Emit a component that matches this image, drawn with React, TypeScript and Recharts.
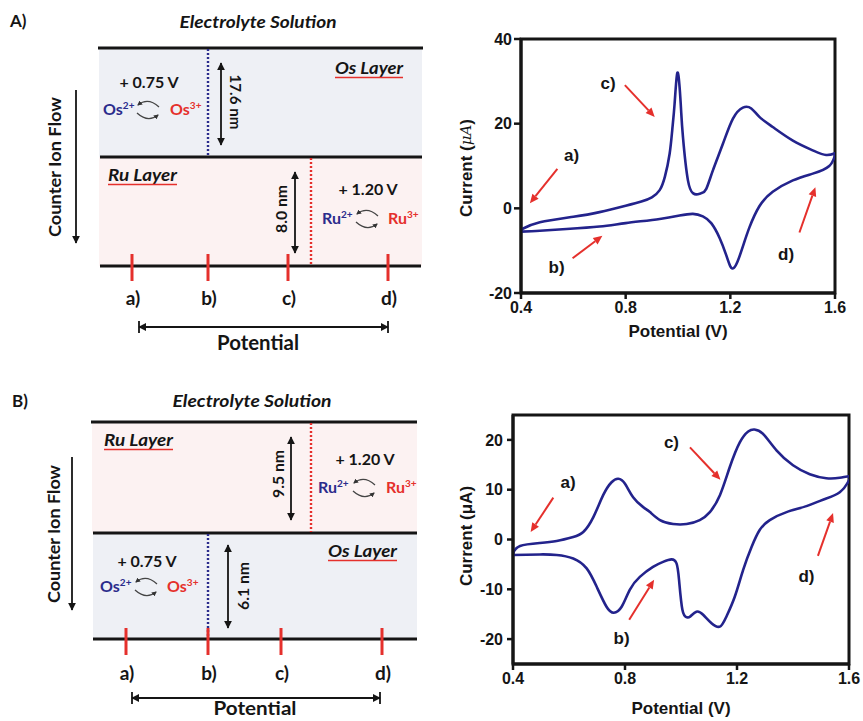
import React from 'react';
import { LineChart, Line, XAxis, YAxis, ReferenceLine, ReferenceDot, ReferenceArea } from 'recharts';

// ---------- Panel A cyclic voltammogram ----------
const cvAForwardPotential = [0.4, 0.472, 0.6, 0.7, 0.8, 0.86, 0.9, 0.93, 0.95, 0.968, 0.978, 0.987, 0.997, 1.006, 1.012, 1.019, 1.038, 1.057, 1.07, 1.09, 1.108, 1.133, 1.172, 1.21, 1.248, 1.28, 1.311, 1.362, 1.439, 1.515, 1.566, 1.6];
const cvAForwardCurrent = [-5.0, -3.3, -2.0, -0.9, 0.6, 1.6, 2.6, 4.3, 7.5, 12.9, 18.5, 24.7, 31.9, 28.7, 23.0, 16.8, 6.6, 3.6, 3.3, 3.6, 4.6, 8.9, 15.3, 21.2, 23.8, 23.6, 21.6, 19.2, 16.0, 13.7, 12.6, 13.0];
const cvAReversePotential = [1.6, 1.578, 1.515, 1.439, 1.362, 1.311, 1.273, 1.248, 1.228, 1.213, 1.2, 1.184, 1.159, 1.127, 1.095, 1.057, 1.006, 0.93, 0.8, 0.7, 0.574, 0.472, 0.4];
const cvAReverseCurrent = [12.5, 10.0, 8.2, 6.6, 3.9, 0.5, -4.5, -9.0, -12.5, -14.1, -13.7, -11.0, -7.0, -3.5, -1.9, -1.3, -1.7, -2.5, -3.5, -4.3, -4.9, -5.3, -5.5];

// ---------- Panel B cyclic voltammogram ----------
const cvBForwardPotential = [0.4, 0.425, 0.496, 0.556, 0.615, 0.651, 0.687, 0.722, 0.752, 0.776, 0.8, 0.829, 0.865, 0.889, 0.925, 0.972, 1.02, 1.067, 1.103, 1.139, 1.174, 1.21, 1.24, 1.262, 1.293, 1.341, 1.4, 1.46, 1.519, 1.567, 1.6];
const cvBForwardCurrent = [-2.8, -1.3, -0.7, -0.3, 0.5, 1.5, 4.5, 8.9, 11.5, 12.2, 11.2, 8.5, 6.5, 5.5, 3.9, 3.1, 3.1, 3.9, 5.5, 8.9, 14.5, 19.5, 21.7, 22.1, 21.2, 17.9, 14.9, 13.1, 12.3, 12.4, 12.7];
const cvBReversePotential = [1.6, 1.567, 1.507, 1.448, 1.377, 1.317, 1.281, 1.252, 1.222, 1.192, 1.162, 1.139, 1.109, 1.079, 1.055, 1.032, 1.02, 1.005, 0.993, 0.984, 0.966, 0.936, 0.9, 0.853, 0.817, 0.788, 0.76, 0.734, 0.699, 0.663, 0.615, 0.556, 0.496, 0.4];
const cvBReverseCurrent = [11.9, 9.5, 8.0, 6.7, 5.5, 3.9, 1.9, -1.5, -6.1, -11.5, -15.5, -17.5, -16.8, -15.1, -14.5, -15.5, -15.6, -14.1, -8.1, -4.8, -4.0, -4.5, -5.5, -7.5, -10.1, -13.5, -14.7, -13.5, -9.5, -5.8, -3.8, -3.1, -3.0, -3.1];

// ---------- Axes ----------
const potentialTicks = [0.4, 0.8, 1.2, 1.6];
const currentTicksA = [-20, 0, 20, 40];
const currentTicksB = [-20, -10, 0, 10, 20];

// ---------- Annotations (label, label V, label I, arrow from V/I, arrow to V/I) ----------
const labelsA = ['a)', 'b)', 'c)', 'd)'];
const labelVA = [0.593, 0.536, 0.733, 1.413];
const labelIA = [12.5, -14.0, 29.5, -10.8];
const arrowFromVA = [0.539, 0.597, 0.797, 1.464];
const arrowFromIA = [9.3, -11.8, 29.1, -5.7];
const arrowToVA = [0.434, 0.711, 0.911, 1.525];
const arrowToIA = [1.2, -6.5, 21.6, 5.0];

const labelsB = ['a)', 'b)', 'c)', 'd)'];
const labelVB = [0.597, 0.788, 0.966, 1.448];
const labelIB = [11.5, -19.8, 19.5, -7.5];
const arrowFromVB = [0.544, 0.815, 1.032, 1.489];
const arrowFromIB = [8.4, -16.1, 18.5, -3.3];
const arrowToVB = [0.463, 0.904, 1.141, 1.543];
const arrowToIB = [1.5, -8.1, 12.0, 5.3];

const buildLoop = (fv: number[], fi: number[], rv: number[], ri: number[]) => [
  ...fv.map((v, k) => ({ v, i: fi[k] })),
  ...rv.map((v, k) => ({ v, i: ri[k] })),
];
const dataA = buildLoop(cvAForwardPotential, cvAForwardCurrent, cvAReversePotential, cvAReverseCurrent);
const dataB = buildLoop(cvBForwardPotential, cvBForwardCurrent, cvBReversePotential, cvBReverseCurrent);

const CF = "'Liberation Sans', Arial, sans-serif";
const SF = "Lato, 'Open Sans', sans-serif";
const BLUE = '#2b2c8c';
const RED = '#e5302c';
const CURVE = '#23238c';
const INK = '#151515';

const RedArrow = (p: any) => {
  const { x1, y1, x2, y2 } = p;
  const ang = Math.atan2(y2 - y1, x2 - x1);
  const L = 9, W = 4;
  const bx = x2 - L * Math.cos(ang), by = y2 - L * Math.sin(ang);
  const pts = `${x2},${y2} ${bx - W * Math.sin(ang)},${by + W * Math.cos(ang)} ${bx + W * Math.sin(ang)},${by - W * Math.cos(ang)}`;
  return (
    <g>
      <line x1={x1} y1={y1} x2={bx} y2={by} stroke={RED} strokeWidth={2} />
      <polygon points={pts} fill={RED} />
    </g>
  );
};

const makeLabelShape = (txt: string) => (p: any) => (
  <text x={p.cx} y={p.cy} textAnchor="middle" dominantBaseline="central" fontFamily={CF} fontWeight={700} fontSize={17} fill={INK}>{txt}</text>
);

const tickStyle = { fill: INK, fontSize: 16, fontWeight: 700, fontFamily: CF };

function CVChart(props: any) {
  const { data, yDomain, yTicks, width, height, margin, yWidth, tickSizeY, tickMarginY, italicUnit, yTitleX, yTitleY, xTitleDy,
    labels, lv, li, afv, afi, atv, ati } = props;
  return (
    <LineChart width={width} height={height} data={data} margin={margin}>
      <XAxis dataKey="v" type="number" domain={[0.4, 1.6]} ticks={potentialTicks} allowDataOverflow
        tickFormatter={(v: number) => v.toFixed(1)} axisLine={{ stroke: INK, strokeWidth: 3 }}
        tickLine={{ stroke: INK, strokeWidth: 2.5 }} tickSize={6} tickMargin={3} height={57} tick={tickStyle}
        label={(lp: any) => {
          const vb = lp.viewBox || {};
          return (
            <text x={vb.x + vb.width / 2} y={vb.y + xTitleDy} textAnchor="middle" fontFamily={CF} fontWeight={700} fontSize={17} fill={INK}>Potential (V)</text>
          );
        }} />
      <YAxis type="number" domain={yDomain} ticks={yTicks} allowDataOverflow width={yWidth}
        axisLine={{ stroke: INK, strokeWidth: 3 }} tickLine={{ stroke: INK, strokeWidth: 2.5 }} tickSize={tickSizeY} tickMargin={tickMarginY} tick={tickStyle}
        label={() => (
          <text x={yTitleX} y={yTitleY} transform={`rotate(-90 ${yTitleX} ${yTitleY})`} textAnchor="middle" dominantBaseline="central" fontFamily={CF} fontWeight={700} fontSize={17} fill={INK}>
            {italicUnit ? (
              <>Current (<tspan fontStyle="italic" fontWeight={400} fontSize={15} fontFamily="'DejaVu Serif', serif">μA</tspan>)</>
            ) : 'Current (μA)'}
          </text>
        )} />
      <ReferenceArea x1={0.4} x2={1.6} y1={yDomain[0]} y2={yDomain[1]} fill="none" stroke={INK} strokeWidth={3} ifOverflow="visible" />
      <Line dataKey="i" type="natural" stroke={CURVE} strokeWidth={2.6} dot={false} activeDot={false} isAnimationActive={false} />
      {labels.map((t: string, k: number) => (
        <ReferenceLine key={'ar' + k} segment={[{ x: afv[k], y: afi[k] }, { x: atv[k], y: ati[k] }]} shape={RedArrow} ifOverflow="visible" />
      ))}
      {labels.map((t: string, k: number) => (
        <ReferenceDot key={'lb' + k} x={lv[k]} y={li[k]} r={1} shape={makeLabelShape(t)} ifOverflow="visible" />
      ))}
    </LineChart>
  );
}

const Cycle = ({ cx, cy }: { cx: number; cy: number }) => (
  <g fill="none" stroke="#444" strokeWidth={1.3}>
    <path d={`M${cx + 11},${cy - 3} Q${cx},${cy - 13} ${cx - 10},${cy - 5}`} markerEnd="url(#ahs)" />
    <path d={`M${cx - 11},${cy + 3} Q${cx},${cy + 13} ${cx + 10},${cy + 5}`} markerEnd="url(#ahs)" />
  </g>
);

const Ion = ({ x, y, el, ox, color }: any) => (
  <text x={x} y={y} fill={color} fontFamily={SF} fontWeight={700} fontSize={16}>{el}<tspan fontSize={10} dy={-6}>{ox}</tspan></text>
);

const LayerTitle = ({ x, y, txt, w }: any) => (
  <g>
    <text x={x} y={y} fontFamily={SF} fontWeight={700} fontStyle="italic" fontSize={17} fill={INK} textLength={w} lengthAdjust="spacingAndGlyphs">{txt}</text>
    <line x1={x} y1={y + 3.5} x2={x + w} y2={y + 3.5} stroke={RED} strokeWidth={1.6} />
  </g>
);

const VArrow = ({ x, y1, y2 }: any) => (
  <line x1={x} y1={y1} x2={x} y2={y2} stroke={INK} strokeWidth={1.8} markerStart="url(#ah)" markerEnd="url(#ah)" />
);

const RotText = ({ x, y, angle, txt, w }: any) => (
  <text x={x} y={y} transform={`rotate(${angle} ${x} ${y})`} textAnchor="middle" dominantBaseline="central" fontFamily={SF} fontWeight={700} fontSize={16} fill={INK} textLength={w} lengthAdjust="spacingAndGlyphs">{txt}</text>
);

const TickLabel = ({ x, y, txt }: any) => (
  <text x={x + 1} y={y} textAnchor="middle" fontFamily={SF} fontWeight={700} fontSize={19} fill={INK}>{txt}</text>
);

function Schematic() {
  const abcd = ['a)', 'b)', 'c)', 'd)'];
  return (
    <svg width={440} height={721} style={{ position: 'absolute', left: 0, top: 0 }}>
      <defs>
        <marker id="ah" viewBox="0 0 10 10" refX="9" refY="5" markerWidth="8" markerHeight="8" markerUnits="userSpaceOnUse" orient="auto-start-reverse">
          <path d="M0,0 L10,5 L0,10 z" fill={INK} />
        </marker>
        <marker id="ahs" viewBox="0 0 10 10" refX="8" refY="5" markerWidth="5" markerHeight="5" markerUnits="userSpaceOnUse" orient="auto">
          <path d="M0,0 L10,5 L0,10 z" fill="#333" />
        </marker>
      </defs>

      {/* ===== Panel A ===== */}
      <text x={10} y={27} fontFamily={SF} fontWeight={700} fontSize={17} fill={INK}>A)</text>
      <text x={258} y={28} textAnchor="middle" fontFamily={SF} fontWeight={700} fontStyle="italic" fontSize={17} fill={INK} textLength={157} lengthAdjust="spacingAndGlyphs">Electrolyte Solution</text>
      <rect x={99} y={48} width={323} height={109} fill="#eef0f5" />
      <rect x={99} y={157} width={323} height={109} fill="#fcf2f2" />
      <line x1={98} y1={48} x2={423} y2={48} stroke={INK} strokeWidth={3} />
      <line x1={100} y1={157} x2={422} y2={157} stroke={INK} strokeWidth={3} />
      <line x1={100} y1={266} x2={421} y2={266} stroke={INK} strokeWidth={3} />
      <line x1={208} y1={49} x2={208} y2={156} stroke={BLUE} strokeWidth={2.4} strokeDasharray="2 2" />
      <line x1={311} y1={158} x2={311} y2={265} stroke={RED} strokeWidth={2.4} strokeDasharray="2 2" />
      <VArrow x={221} y1={63} y2={145} />
      <RotText x={236} y={102} angle={90} txt="17.6 nm" w={55} />
      <VArrow x={295} y1={172} y2={253} />
      <RotText x={280} y={209} angle={-90} txt="8.0 nm" w={48} />
      <LayerTitle x={335} y={74} txt="Os Layer" w={68} />
      <LayerTitle x={108} y={181} txt="Ru Layer" w={69} />
      <text x={149} y={88} textAnchor="middle" fontFamily={SF} fontWeight={700} fontSize={16} fill={INK}>+ 0.75 V</text>
      <Ion x={103} y={115} el="Os" ox="2+" color={BLUE} />
      <Cycle cx={148} cy={110} />
      <Ion x={170} y={115} el="Os" ox="3+" color={RED} />
      <text x={368} y={195} textAnchor="middle" fontFamily={SF} fontWeight={700} fontSize={16} fill={INK}>+ 1.20 V</text>
      <Ion x={322} y={224} el="Ru" ox="2+" color={BLUE} />
      <Cycle cx={367} cy={219} />
      <Ion x={388} y={224} el="Ru" ox="3+" color={RED} />
      {[132, 208, 288, 388].map((x, k) => (
        <g key={'ta' + k}>
          <line x1={x} y1={254} x2={x} y2={281} stroke={RED} strokeWidth={3} />
          <TickLabel x={x} y={305} txt={abcd[k]} />
        </g>
      ))}
      <line x1={139} y1={327} x2={388} y2={327} stroke={INK} strokeWidth={1.8} markerStart="url(#ah)" markerEnd="url(#ah)" />
      <line x1={139} y1={321} x2={139} y2={333} stroke={INK} strokeWidth={1.8} />
      <line x1={388} y1={321} x2={388} y2={333} stroke={INK} strokeWidth={1.8} />
      <text x={258} y={350} textAnchor="middle" fontFamily={SF} fontWeight={700} fontSize={20} fill={INK} textLength={82} lengthAdjust="spacingAndGlyphs">Potential</text>
      <text x={54} y={167} transform="rotate(-90 54 167)" textAnchor="middle" dominantBaseline="central" fontFamily={SF} fontWeight={700} fontSize={17} fill={INK} textLength={140} lengthAdjust="spacingAndGlyphs">Counter Ion Flow</text>
      <line x1={76} y1={90} x2={76} y2={243} stroke={INK} strokeWidth={1.8} markerEnd="url(#ah)" />

      {/* ===== Panel B ===== */}
      <text x={12} y={407} fontFamily={SF} fontWeight={700} fontSize={17} fill={INK}>B)</text>
      <text x={252} y={407} textAnchor="middle" fontFamily={SF} fontWeight={700} fontStyle="italic" fontSize={17} fill={INK} textLength={159} lengthAdjust="spacingAndGlyphs">Electrolyte Solution</text>
      <rect x={92} y={422} width={325} height={111} fill="#fcf2f2" />
      <rect x={93} y={533} width={324} height={106} fill="#eef0f5" />
      <line x1={91} y1={422} x2={417} y2={422} stroke={INK} strokeWidth={3} />
      <line x1={93} y1={533} x2={417} y2={533} stroke={INK} strokeWidth={3} />
      <line x1={93} y1={639} x2={417} y2={639} stroke={INK} strokeWidth={3} />
      <line x1={311} y1={423} x2={311} y2={532} stroke={RED} strokeWidth={2.4} strokeDasharray="2 2" />
      <line x1={208} y1={534} x2={208} y2={638} stroke={BLUE} strokeWidth={2.4} strokeDasharray="2 2" />
      <VArrow x={291} y1={437} y2={520} />
      <RotText x={277} y={474} angle={-90} txt="9.5 nm" w={48} />
      <VArrow x={228} y1={545} y2={628} />
      <RotText x={242} y={586} angle={-90} txt="6.1 nm" w={48} />
      <LayerTitle x={104} y={446} txt="Ru Layer" w={69} />
      <LayerTitle x={328} y={557} txt="Os Layer" w={69} />
      <text x={365} y={465} textAnchor="middle" fontFamily={SF} fontWeight={700} fontSize={16} fill={INK}>+ 1.20 V</text>
      <Ion x={318} y={493} el="Ru" ox="2+" color={BLUE} />
      <Cycle cx={364} cy={488} />
      <Ion x={386} y={493} el="Ru" ox="3+" color={RED} />
      <text x={147} y={567} textAnchor="middle" fontFamily={SF} fontWeight={700} fontSize={16} fill={INK}>+ 0.75 V</text>
      <Ion x={100} y={592} el="Os" ox="2+" color={BLUE} />
      <Cycle cx={146} cy={587} />
      <Ion x={167} y={592} el="Os" ox="3+" color={RED} />
      {[126, 208, 281, 382].map((x, k) => (
        <g key={'tb' + k}>
          <line x1={x} y1={628} x2={x} y2={655} stroke={RED} strokeWidth={3} />
          <TickLabel x={x} y={680} txt={abcd[k]} />
        </g>
      ))}
      <line x1={132} y1={698} x2={380} y2={698} stroke={INK} strokeWidth={1.8} markerStart="url(#ah)" markerEnd="url(#ah)" />
      <line x1={132} y1={692} x2={132} y2={704} stroke={INK} strokeWidth={1.8} />
      <line x1={380} y1={692} x2={380} y2={704} stroke={INK} strokeWidth={1.8} />
      <text x={255} y={715} textAnchor="middle" fontFamily={SF} fontWeight={700} fontSize={18} fill={INK} textLength={83} lengthAdjust="spacingAndGlyphs">Potential</text>
      <text x={53} y={534} transform="rotate(-90 53 534)" textAnchor="middle" dominantBaseline="central" fontFamily={SF} fontWeight={700} fontSize={17} fill={INK} textLength={138} lengthAdjust="spacingAndGlyphs">Counter Ion Flow</text>
      <line x1={72} y1={457} x2={72} y2={610} stroke={INK} strokeWidth={1.8} markerEnd="url(#ah)" />
    </svg>
  );
}

export default function App() {
  return (
    <div style={{ position: 'absolute', left: 0, top: 0, width: 863, height: 721, background: '#fff', overflow: 'hidden' }}>
      <Schematic />
      <div style={{ position: 'absolute', left: 440, top: 20 }}>
        <CVChart data={dataA} yDomain={[-20, 40]} yTicks={currentTicksA} width={410} height={330}
          margin={{ top: 19, right: 15, bottom: 0, left: 0 }} yWidth={81} tickSizeY={7} tickMarginY={2}
          italicUnit yTitleX={26} yTitleY={148} xTitleDy={44}
          labels={labelsA} lv={labelVA} li={labelIA} afv={arrowFromVA} afi={arrowFromIA} atv={arrowToVA} ati={arrowToIA} />
      </div>
      <div style={{ position: 'absolute', left: 440, top: 400 }}>
        <CVChart data={dataB} yDomain={[-25, 25]} yTicks={currentTicksB} width={423} height={321}
          margin={{ top: 15, right: 14, bottom: 0, left: 0 }} yWidth={73} tickSizeY={6} tickMarginY={4}
          italicUnit={false} yTitleX={26} yTitleY={136} xTitleDy={50}
          labels={labelsB} lv={labelVB} li={labelIB} afv={arrowFromVB} afi={arrowFromIB} atv={arrowToVB} ati={arrowToIB} />
      </div>
    </div>
  );
}
